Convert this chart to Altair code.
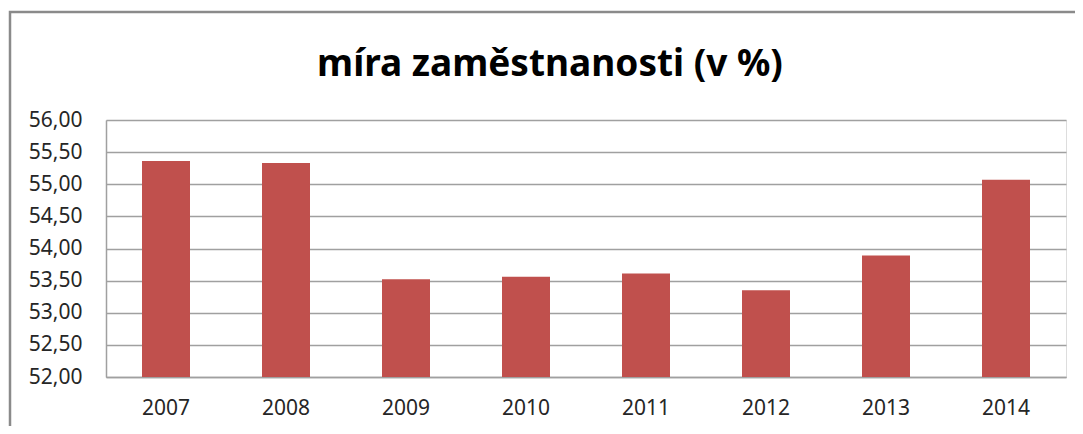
import altair as alt
import pandas as pd

years = ["2007", "2008", "2009", "2010", "2011", "2012", "2013", "2014"]
values = [55.36, 55.33, 53.52, 53.56, 53.61, 53.35, 53.89, 55.07]
y_ticks = [52.0, 52.5, 53.0, 53.5, 54.0, 54.5, 55.0, 55.5, 56.0]
title_text = "míra zaměstnanosti (v %)"

df = pd.DataFrame({"rok": years, "hodnota": values, "base": [52.0] * len(years)})

FONT = "Noto Sans"

bars = alt.Chart(df).mark_bar(color="#C0504D").encode(
    x=alt.X(
        "rok:N",
        sort=years,
        scale=alt.Scale(paddingInner=0.6, paddingOuter=0.3),
        axis=alt.Axis(
            title=None, labelAngle=0, labelFont=FONT, labelFontSize=21,
            labelColor="#262626", labelPadding=20, ticks=False,
            domainColor="#A0A0A0", domainWidth=1.5, grid=False,
        ),
    ),
    y=alt.Y(
        "hodnota:Q",
        scale=alt.Scale(domain=[52, 56], zero=False, nice=False),
        axis=alt.Axis(
            title=None, values=y_ticks, labelFont=FONT, labelFontSize=21,
            labelColor="#262626", labelPadding=24, ticks=False,
            labelExpr="replace(format(datum.value, '.2f'), '.', ',')",
            domainColor="#A0A0A0", domainWidth=1.5,
            grid=True, gridColor="#A0A0A0", gridWidth=1.5,
        ),
    ),
    y2="base:Q",
)

one = pd.DataFrame({"t": [title_text]})

frame = alt.Chart(one).mark_rect(
    fill=None, stroke="#8A8A8A", strokeWidth=2.5, clip=False
).encode(
    x=alt.value(-96), x2=alt.value(1200),
    y=alt.value(-108), y2=alt.value(500),
)

title = alt.Chart(one).mark_text(
    font=FONT, fontSize=37, fontWeight="bold", color="#000000",
    align="center", baseline="middle", clip=False,
).encode(
    text="t:N", x=alt.value(444), y=alt.value(-55),
)

chart = alt.layer(frame, bars, title).properties(
    width=960,
    height=257,
    autosize=alt.AutoSizeParams(type="none"),
    padding={"left": 98, "top": 112, "right": 9, "bottom": 49},
).configure_view(stroke=None).configure(background="white")

chart.save("out.html", embed_options={"renderer": "svg", "actions": False})
